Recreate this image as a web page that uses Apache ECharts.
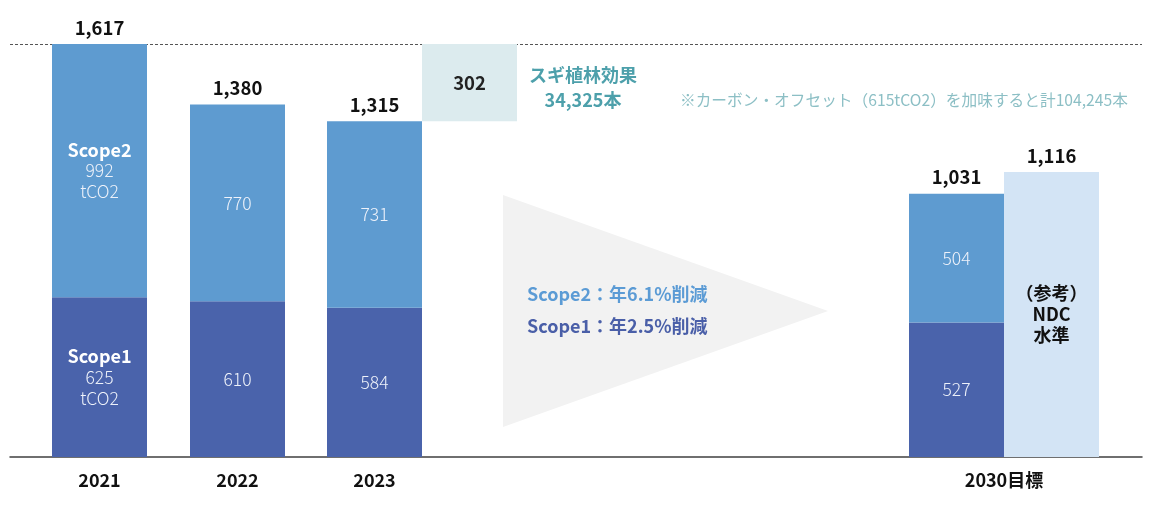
<!DOCTYPE html>
<html>
<head>
<meta charset="utf-8">
<script src="https://cdn.jsdelivr.net/npm/echarts@6/dist/echarts.min.js"></script>
<style>html,body{margin:0;padding:0;background:#fff}#c{width:1154px;height:506px}</style>
</head>
<body>
<div id="c"></div>
<script>
// ---- data ----
const years = ['2021', '2022', '2023', '2030目標'];
const scope1 = [625, 610, 584, 527];
const scope2 = [992, 770, 731, 504];
const offsetBase = 1315;
const offsetValue = 302;
const ndcValue = 1116;
const ndcLabel = '（参考）\nNDC\n水準';
const offsetTitle = 'スギ植林効果';
const offsetTrees = '34,325本';
const offsetNote = '※カーボン・オフセット（615tCO2）を加味すると計104,245本';
const scope2Rate = 'Scope2：年6.1%削減';
const scope1Rate = 'Scope1：年2.5%削減';

// ---- layout (pixel-space positions on the hidden value x axis) ----
const barX = [99.5, 237.5, 374.5, 956.5];
const offsetX = 469.5;
const ndcX = 1051.5;
const tickX = [99.5, 237.5, 374.5, 1004];
const BAR_W = 95;
const FONT = '"Noto Sans CJK JP", "Noto Sans", sans-serif';
const C1 = '#4A63AB', C2 = '#5E9BD0', COFF = '#DCEBEE', CNDC = '#D3E4F5';

const fmt = v => v.toLocaleString('en-US');

const s1Data = barX.map((x, i) => [x, 0, scope1[i], i]);
const s2Data = barX.map((x, i) => [x, scope1[i], scope1[i] + scope2[i], i]);
const offData = [[offsetX, offsetBase, offsetBase + offsetValue, 0]];
const ndcData = [[ndcX, 0, ndcValue, 0]];
const totalData = barX.map((x, i) => [x, scope1[i] + scope2[i]]).concat([[ndcX, ndcValue]]);

function rectItem(color, textFn) {
  return function (params, api) {
    const x = api.value(0), y0 = api.value(1), y1 = api.value(2);
    const p0 = api.coord([x, y0]);
    const p1 = api.coord([x, y1]);
    const el = {
      type: 'rect',
      shape: { x: p0[0] - BAR_W / 2, y: p1[1], width: BAR_W, height: p0[1] - p1[1] },
      style: { fill: color }
    };
    const t = textFn ? textFn(params.dataIndex, y1 - y0) : null;
    if (t) {
      el.textContent = { style: t };
      el.textConfig = { position: 'inside' };
    }
    return el;
  };
}

const richInside = {
  b: { fontFamily: FONT, fontSize: 18, fontWeight: 'bold', fill: '#fff', lineHeight: 21 },
  n: { fontFamily: FONT, fontSize: 17.5, fontWeight: 300, fill: '#EEF2FA', lineHeight: 21 }
};
function scopeText(name) {
  return function (i, v) {
    if (i === 0) {
      return { text: '{b|' + name + '}\n{n|' + fmt(v) + '}\n{n|tCO2}', rich: richInside, align: 'center', verticalAlign: 'middle' };
    }
    return { text: fmt(v), fontFamily: FONT, fontSize: 17.5, fontWeight: 300, fill: '#EEF2FA', align: 'center', verticalAlign: 'middle' };
  };
}

const option = {
  animation: false,
  backgroundColor: '#fff',
  grid: { left: 10, right: 12, top: 44, bottom: 49 },
  xAxis: {
    type: 'value', min: 10, max: 1142,
    axisLine: { show: true, lineStyle: { color: '#404040', width: 1.5 } },
    axisTick: { show: false },
    splitLine: { show: false },
    axisLabel: {
      customValues: tickX,
      formatter: v => { const i = tickX.findIndex(t => Math.abs(t - v) < 0.01); return i >= 0 ? years[i] : ''; },
      fontFamily: FONT, fontSize: 18, fontWeight: 'bold', color: '#111', margin: 14
    }
  },
  yAxis: {
    type: 'value', min: 0, max: scope1[0] + scope2[0], interval: scope1[0] + scope2[0],
    axisLine: { show: false }, axisTick: { show: false }, axisLabel: { show: false },
    splitLine: { show: true, showMinLine: false, lineStyle: { color: '#555', type: [3, 2], width: 1 } }
  },
  series: [
    { type: 'custom', name: 'Scope1', data: s1Data, renderItem: rectItem(C1, scopeText('Scope1')), z: 2 },
    { type: 'custom', name: 'Scope2', data: s2Data, renderItem: rectItem(C2, scopeText('Scope2')), z: 2 },
    { type: 'custom', name: 'Offset', data: offData, renderItem: rectItem(COFF, (i, v) => ({ text: String(v), fontFamily: FONT, fontSize: 18.5, fontWeight: 'bold', fill: '#222', align: 'center', verticalAlign: 'middle' })), z: 2 },
    { type: 'custom', name: 'NDC', data: ndcData, renderItem: rectItem(CNDC, () => ({ text: ndcLabel, fontFamily: FONT, fontSize: 18, fontWeight: 'bold', fill: '#111', lineHeight: 21, align: 'center', verticalAlign: 'middle' })), z: 2 },
    {
      type: 'custom', name: 'Total', data: totalData, z: 3,
      renderItem: function (params, api) {
        const p = api.coord([api.value(0), api.value(1)]);
        return { type: 'text', x: p[0], y: p[1] - 7, style: { text: fmt(api.value(1)), fontFamily: FONT, fontSize: 18.5, fontWeight: 'bold', fill: '#111', align: 'center', verticalAlign: 'bottom' } };
      }
    }
  ],
  graphic: [
    { type: 'polygon', shape: { points: [[503, 195], [503, 427], [828, 311]] }, style: { fill: '#F2F2F2' }, z: 0 },
    { type: 'text', x: 527, y: 294, style: { text: scope2Rate, fontFamily: FONT, fontSize: 18, fontWeight: 'bold', fill: '#5B9BD5', verticalAlign: 'middle' } },
    { type: 'text', x: 527, y: 326, style: { text: scope1Rate, fontFamily: FONT, fontSize: 18, fontWeight: 'bold', fill: '#4A5FA8', verticalAlign: 'middle' } },
    { type: 'text', x: 583, y: 75, style: { text: offsetTitle, fontFamily: FONT, fontSize: 18, fontWeight: 'bold', fill: '#4DA0AB', align: 'center', verticalAlign: 'middle' } },
    { type: 'text', x: 583, y: 100, style: { text: offsetTrees, fontFamily: FONT, fontSize: 18, fontWeight: 'bold', fill: '#4DA0AB', align: 'center', verticalAlign: 'middle' } },
    { type: 'text', x: 680, y: 100, style: { text: offsetNote, fontFamily: FONT, fontSize: 15.7, fill: '#8CBFC5', align: 'left', verticalAlign: 'middle' } }
  ]
};

echarts.init(document.getElementById('c')).setOption(option);
</script>
</body>
</html>
